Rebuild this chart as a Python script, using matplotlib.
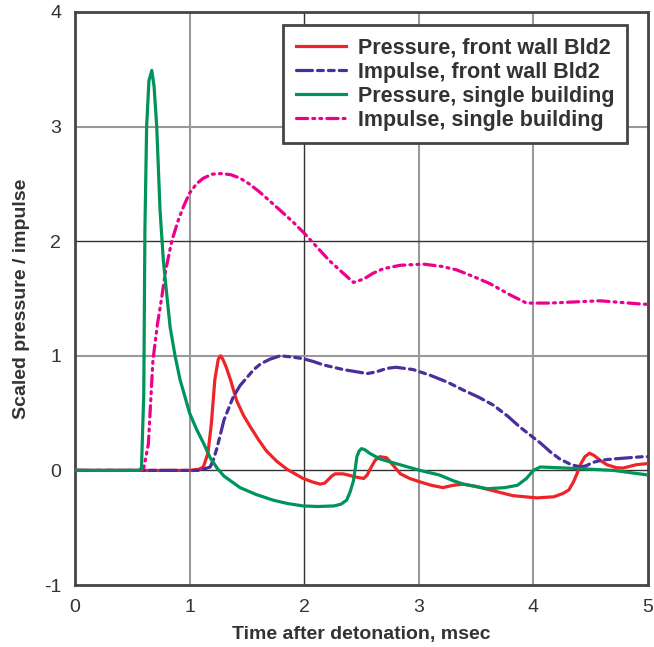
import matplotlib
matplotlib.use("Agg")
import matplotlib.pyplot as plt

# ---- data ----
x_ticks = [0, 1, 2, 3, 4, 5]
y_ticks = [-1, 0, 1, 2, 3, 4]

red_x = [0, 1.0, 1.08, 1.12, 1.16, 1.19, 1.22, 1.25, 1.27, 1.29, 1.32, 1.36, 1.41, 1.47, 1.53, 1.60,
         1.67, 1.76, 1.85, 1.92, 1.99, 2.07, 2.14, 2.18, 2.20, 2.24, 2.27, 2.34, 2.40, 2.46, 2.52,
         2.55, 2.58, 2.62, 2.66, 2.72, 2.78, 2.84, 2.92, 3.01, 3.11, 3.21, 3.30, 3.39, 3.50, 3.62,
         3.82, 4.03, 4.18, 4.26, 4.31, 4.35, 4.38, 4.41, 4.45, 4.49, 4.53, 4.58, 4.64, 4.72, 4.78,
         4.90, 5.0]
red_y = [0, 0, 0.01, 0.03, 0.15, 0.41, 0.79, 0.97, 1.0, 0.97, 0.90, 0.78, 0.61, 0.48, 0.38, 0.27,
         0.17, 0.08, 0.01, -0.03, -0.07, -0.10, -0.12, -0.11, -0.09, -0.05, -0.03, -0.03, -0.045, -0.06, -0.07,
         -0.04, 0.02, 0.09, 0.12, 0.11, 0.04, -0.03, -0.07, -0.10, -0.13, -0.15, -0.13, -0.12, -0.14, -0.17,
         -0.22, -0.24, -0.23, -0.20, -0.17, -0.10, -0.03, 0.05, 0.12, 0.15, 0.13, 0.09, 0.05, 0.025, 0.02,
         0.05, 0.06]

blue_x = [0, 1.09, 1.18, 1.21, 1.24, 1.30, 1.38, 1.44, 1.50, 1.56, 1.62, 1.70, 1.79, 1.89, 1.99,
          2.08, 2.17, 2.34, 2.55, 2.63, 2.72, 2.80, 2.95, 3.10, 3.25, 3.39, 3.52, 3.65, 3.78, 3.88,
          3.97, 4.06, 4.15, 4.23, 4.33, 4.41, 4.46, 4.52, 4.60, 4.70, 4.96, 5.0]
blue_y = [0, 0, 0.03, 0.10, 0.20, 0.44, 0.64, 0.74, 0.81, 0.88, 0.93, 0.97, 1.0, 0.99, 0.975,
          0.95, 0.92, 0.88, 0.845, 0.86, 0.89, 0.90, 0.88, 0.83, 0.77, 0.70, 0.64, 0.57, 0.47, 0.38,
          0.31, 0.24, 0.16, 0.10, 0.05, 0.03, 0.04, 0.07, 0.09, 0.10, 0.12, 0.12]

green_x = [0, 0.56, 0.58, 0.60, 0.61, 0.625, 0.645, 0.67, 0.69, 0.713, 0.742, 0.771, 0.80, 0.83,
           0.873, 0.917, 0.96, 1.0, 1.06, 1.12, 1.18, 1.24, 1.30, 1.44, 1.58, 1.73, 1.86, 1.99,
           2.12, 2.26, 2.32, 2.37, 2.40, 2.43, 2.46, 2.48, 2.50, 2.53, 2.57, 2.66, 2.80, 3.01,
           3.18, 3.30, 3.39, 3.60, 3.75, 3.86, 3.94, 4.00, 4.06, 4.41, 4.70, 5.0]
green_y = [0, 0, 0.02, 0.67, 2.1, 3.0, 3.4, 3.49, 3.35, 3.0, 2.27, 1.83, 1.54, 1.25,
           1.0, 0.79, 0.64, 0.50, 0.36, 0.24, 0.11, 0.02, -0.05, -0.15, -0.21, -0.26, -0.29, -0.31,
           -0.315, -0.31, -0.295, -0.26, -0.19, -0.09, 0.12, 0.17, 0.19, 0.18, 0.15, 0.10, 0.06, 0.0,
           -0.04, -0.09, -0.12, -0.16, -0.15, -0.13, -0.07, 0.0, 0.03, 0.015, 0.0, -0.04]

mag_x = [0, 0.58, 0.60, 0.64, 0.68, 0.72, 0.757, 0.79, 0.844, 0.90, 0.95, 1.0, 1.06, 1.12, 1.20,
         1.28, 1.36, 1.44, 1.52, 1.61, 1.70, 1.79, 1.90, 2.0, 2.11, 2.22, 2.33, 2.43, 2.52, 2.60,
         2.69, 2.84, 3.04, 3.20, 3.33, 3.48, 3.62, 3.80, 3.94, 4.14, 4.58, 4.96, 5.0]
mag_y = [0, 0, 0.02, 0.23, 0.96, 1.28, 1.51, 1.74, 2.0, 2.18, 2.31, 2.42, 2.50, 2.55, 2.585,
         2.59, 2.58, 2.55, 2.50, 2.43, 2.35, 2.27, 2.17, 2.07, 1.95, 1.83, 1.73, 1.64, 1.67, 1.72,
         1.76, 1.79, 1.80, 1.78, 1.75, 1.69, 1.63, 1.53, 1.46, 1.46, 1.48, 1.45, 1.45]

labels = ["Pressure, front wall Bld2", "Impulse, front wall Bld2",
          "Pressure, single building", "Impulse, single building"]

# ---- plot ----
plt.rcParams['font.family'] = ['Liberation Sans', 'DejaVu Sans']
plt.rcParams['axes.unicode_minus'] = False
txt = '#333333'
fig = plt.figure(figsize=(6.54, 6.47), dpi=100)
ax = fig.add_axes([0.1147, 0.0958, 0.8761, 0.8857])

for t in x_ticks[1:-1]:
    dark = (t == 2)
    ax.axvline(t, color='#333333' if dark else '#999999', lw=1.0 if dark else 1.5, zorder=1)
for t in y_ticks[1:-1]:
    dark = (t in (0, 2))
    ax.axhline(t, color='#333333' if dark else '#999999', lw=1.0 if dark else 1.5, zorder=1)

lw = 2.3
ax.plot(red_x, red_y, color='#EE2528', lw=lw, label=labels[0], zorder=3)
ax.plot(blue_x, blue_y, color='#4B2E9B', lw=lw, label=labels[1], zorder=3,
        linestyle=(0, (5, 1.6, 1.8, 1.6, 1.8, 1.6)), dash_capstyle='round')
ax.plot(green_x, green_y, color='#00945A', lw=lw, label=labels[2], zorder=4)
ax.plot(mag_x, mag_y, color='#EC008C', lw=lw, label=labels[3], zorder=3,
        linestyle=(0, (3.5, 1.6, 0.6, 1.6, 0.6, 1.6)), dash_capstyle='round')

ax.set_xlim(0, 5)
ax.set_ylim(-1, 4)
ax.set_xticks(x_ticks)
ax.set_yticks(y_ticks)
ax.tick_params(length=0, labelsize=14, labelcolor=txt, pad=10)
for s in ax.spines.values():
    s.set_color('#444444')
    s.set_linewidth(2)

ax.set_xlabel("Time after detonation, msec", fontsize=14, fontweight='bold', color=txt, labelpad=7)
ax.set_ylabel("Scaled pressure / impulse", fontsize=14, fontweight='bold', color=txt, labelpad=10)

leg = ax.legend(loc='upper right', bbox_to_anchor=(0.964, 0.978),
                prop={'weight': 'bold', 'size': 15.5}, frameon=True, fancybox=False,
                handlelength=2.35, handletextpad=0.55, labelspacing=0.14, borderpad=0.6,
                borderaxespad=0)
leg.get_frame().set_edgecolor('#444444')
leg.get_frame().set_linewidth(2)
leg.get_frame().set_alpha(1)
for t in leg.get_texts():
    t.set_color(txt)

fig.savefig("out.png", dpi=100)
